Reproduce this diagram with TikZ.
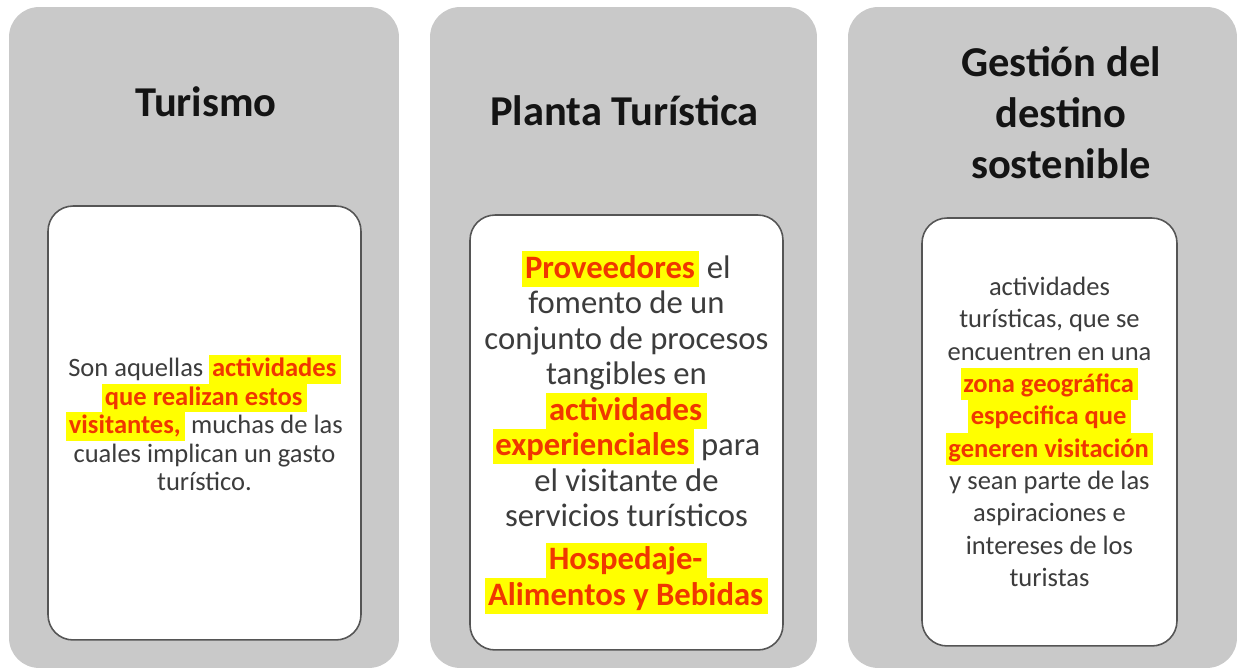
\documentclass[tikz,border=0pt]{standalone}
\usepackage{fontspec}
\setmainfont{Carlito}
\usetikzlibrary{positioning}

\definecolor{panelgrey}{RGB}{201,201,201}
\definecolor{cardline}{RGB}{85,85,85}
\definecolor{bodytext}{RGB}{60,60,60}
\definecolor{hlyellow}{RGB}{255,255,0}
\definecolor{hlred}{RGB}{240,55,0}

\newcommand{\hlt}[1]{{\setlength{\fboxsep}{0pt}\colorbox{hlyellow}{\rule[-0.24\baselineskip]{0pt}{\baselineskip}\kern1.5pt\textcolor{hlred}{\bfseries #1}\kern2.5pt}}}

\begin{document}
\begin{tikzpicture}[x=0.02cm, y=-0.02cm,
                    panel node/.style={rectangle, rounded corners=0.6cm, fill=panelgrey, minimum height=13.22cm},
                    title node/.style={align=center, inner sep=0pt, anchor=base, text={rgb,255:red,20;green,20;blue,20},
                                       font=\fontsize{24.2}{29.3}\selectfont\bfseries},
                    card node/.style={rectangle, rounded corners=0.5cm, draw=cardline, line width=0.9pt, fill=white,
                                      align=center, text=bodytext}]

  \useasboundingbox (0,0) rectangle (1238,668);

  % grey panels
  \node[panel node, minimum width=7.8cm]  (p1) at (204,337.5) {};
  \node[panel node, minimum width=7.74cm] (p2) at (623.5,337.5) {};
  \node[panel node, minimum width=7.78cm] (p3) at (1042.5,337.5) {};

  % titles (base = last line)
  \node[title node] (t1) at (206,117) {Turismo};
  \node[title node] (t2) at (624.5,126) {Planta Turística};
  \node[title node] (t3) at (1061,179) {Gestión del\\destino\\sostenible};

  % white cards
  \node[card node, minimum width=6.26cm, minimum height=8.68cm, font=\fontsize{15.1}{16.2}\selectfont] (c1) at (204.5,423)
    {Son aquellas \hlt{actividades}\\
     \hlt{que realizan estos}\\
     \hlt{visitantes,} muchas de las\\
     cuales implican un gasto\\
     turístico.};

  \node[card node, minimum width=6.26cm, minimum height=8.7cm, font=\fontsize{18.6}{20.2}\selectfont] (c2) at (626.5,432.5)
    {\hlt{Proveedores} el\\
     fomento de un\\
     conjunto de procesos\\
     tangibles en\\
     \hlt{actividades}\\
     \hlt{experienciales} para\\
     el visitante de\\
     servicios turísticos\\[4.5pt]
     \hlt{Hospedaje-}\\
     \hlt{Alimentos y Bebidas}};

  \node[card node, minimum width=5.1cm, minimum height=8.56cm, font=\fontsize{15.1}{18.4}\selectfont] (c3) at (1049.5,432)
    {actividades\\
     turísticas, que se\\
     encuentren en una\\
     \hlt{zona geográfica}\\
     \hlt{especifica que}\\
     \hlt{generen visitación}\\
     y sean parte de las\\
     aspiraciones e\\
     intereses de los\\
     turistas};

\end{tikzpicture}
\end{document}
